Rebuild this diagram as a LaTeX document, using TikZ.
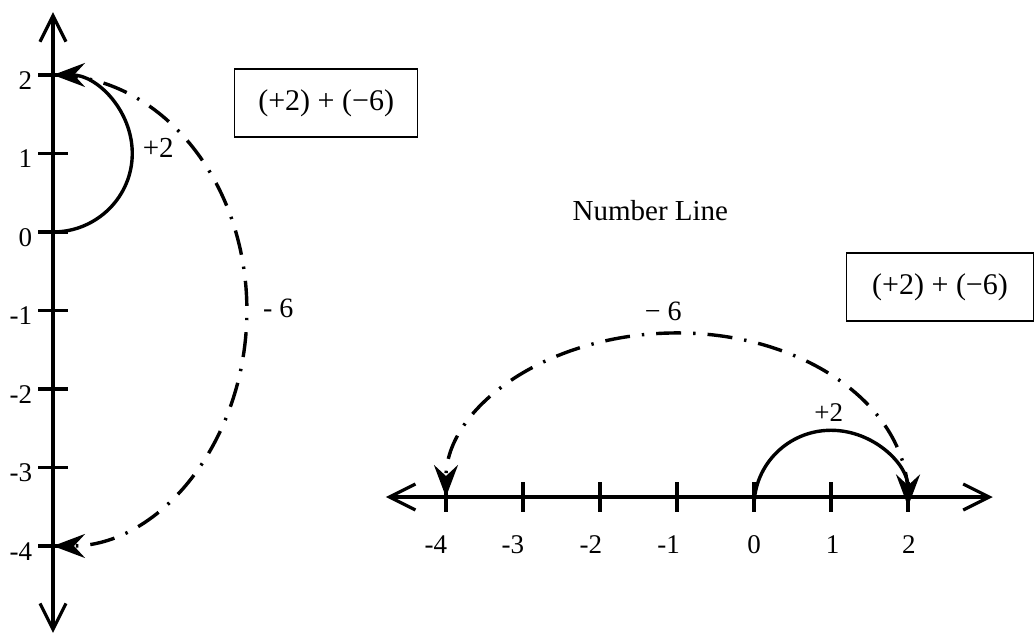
\documentclass[tikz,border=0pt]{standalone}
\usepackage{fontspec}
\setmainfont{Liberation Serif}
\usetikzlibrary{arrows.meta}

\begin{document}
\begin{tikzpicture}[x=39.25pt,y=39.25pt,
  axis/.style={line width=1.6pt,
    {Straight Barb[length=13pt,width=13pt]}-{Straight Barb[length=13pt,width=13pt]}},
  tick/.style={line width=1.6pt},
  jump/.style={line width=1.7pt, -{Stealth[length=16pt,width=12pt,inset=5.5pt]}},
  dashdot/.style={jump, dash pattern=on 12.5pt off 6pt on 1.2pt off 6pt},
  ticklab/.style={font=\fontsize{13.5}{16}\selectfont, inner sep=0pt},
  sumbox/.style={draw, line width=0.8pt, minimum height=34pt,
    font=\fontsize{15}{17}\selectfont}]
  \useasboundingbox (-0.675,-5.134) rectangle (12.522,2.955);

  % Vertical number line
  \draw[axis] (0,-5.108) -- (0,2.80);
  \foreach \k in {-4,...,2} {
    \draw[tick] (-0.19,\k) -- (0.19,\k);
    \node[ticklab, anchor=east] (v\k) at (-0.26,\k-0.07) {\k};
  }

  % +2 then -6 on the vertical line
  \draw[jump] (0,0) arc[start angle=-90, end angle=90, x radius=1.01, y radius=1];
  \draw[dashdot] (0,2) arc[start angle=90, end angle=-90, x radius=2.47, y radius=3];
  \node[font=\fontsize{14.5}{17}\selectfont] (vup) at (1.34,1.07) {+2};
  \node[font=\fontsize{14}{16}\selectfont] (vdown) at (2.87,-0.97) {- 6};
  \node[sumbox, minimum width=91.5pt] (vsum) at (3.48,1.64) {(+2) + (−6)};

  \node[font=\fontsize{14.5}{17}\selectfont] (title) at (7.61,0.27) {Number Line};
  \node[sumbox, minimum width=93.5pt] (hsum) at (11.30,-0.70) {(+2) + (−6)};

  % Horizontal number line
  \begin{scope}[shift={(8.93,-3.376)}, xscale=0.981]
    \draw[axis] (-4.78,0) -- (3.10,0);
    \foreach \k/\dx in {-4/-0.13, -3/-0.13, -2/-0.12, -1/-0.11, 0/0, 1/0.02, 2/0.01} {
      \draw[tick] (\k,-0.19) -- (\k,0.19);
      \node[ticklab] (h\k) at (\k+\dx,-0.61) {\k};
    }

    % +2 then -6 on the horizontal line
    \draw[jump] (0,-0.12) arc[start angle=180, end angle=0, x radius=1, y radius=0.97];
    \draw[dashdot] (2,0) arc[start angle=0, end angle=180, x radius=3, y radius=2.09];
    \node[font=\fontsize{13.5}{16}\selectfont] (hup) at (0.97,1.08) {+2};
    \node[font=\fontsize{14}{16}\selectfont] (hdown) at (-1.18,2.36) {− 6};
  \end{scope}
\end{tikzpicture}
\end{document}
